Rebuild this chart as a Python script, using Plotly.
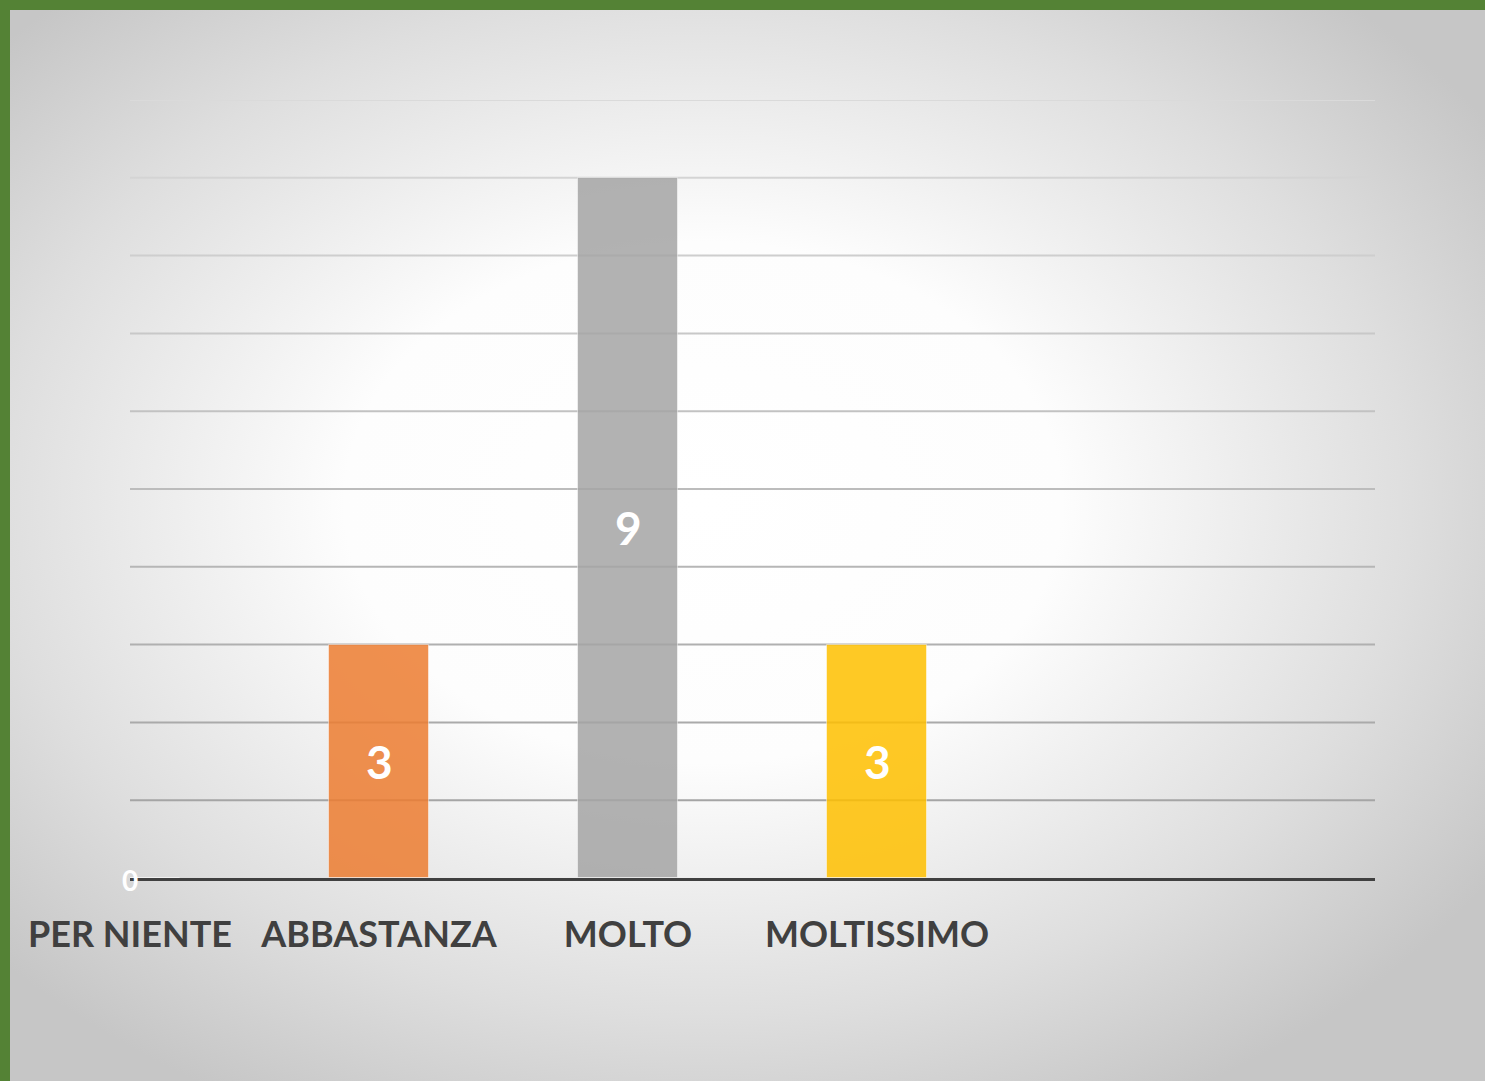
import base64
import plotly.graph_objects as go

categories = ['PER NIENTE', 'ABBASTANZA', 'MOLTO', 'MOLTISSIMO', '']
values = [0, 3, 9, 3, None]
bar_colors = ['#4472C4', '#ED7D31', '#A5A5A5', '#FFC000', '#5B9BD5']
y_ticks = [1, 2, 3, 4, 5, 6, 7, 8, 9, 10]

W, H = 1485, 1081
x_pos = list(range(len(categories)))

# radial grey background (PowerPoint style), fed as an svg image
svg = '''<svg xmlns="http://www.w3.org/2000/svg" width="1475" height="1071" preserveAspectRatio="none" viewBox="0 0 1475 1071">
<defs><radialGradient id="g" cx="0.47" cy="0.46" r="0.64" gradientUnits="objectBoundingBox">
<stop offset="0" stop-color="#ffffff"/>
<stop offset="0.38" stop-color="#fdfdfd"/>
<stop offset="0.75" stop-color="#dedede"/>
<stop offset="1" stop-color="#c6c6c6"/>
</radialGradient></defs>
<rect x="0" y="0" width="1475" height="1071" fill="url(#g)"/>
</svg>'''
bg_src = 'data:image/svg+xml;base64,' + base64.b64encode(svg.encode()).decode()

fig = go.Figure()
fig.add_trace(go.Bar(
    x=x_pos,
    y=values,
    width=0.4,
    marker=dict(color=bar_colors, opacity=0.85,
                line=dict(color='rgba(255,255,255,0.5)', width=1)),
    hoverinfo='skip',
))

# gridlines: lighter towards the top
shapes = []
for i, t in enumerate(y_ticks):
    g = int(165 + (218 - 165) * i / (len(y_ticks) - 1))
    shapes.append(dict(type='line', xref='x domain', yref='y', x0=0, x1=1, y0=t, y1=t,
                       line=dict(color='rgb(%d,%d,%d)' % (g, g, g), width=2),
                       layer='below'))

# data labels centred in each bar
annotations = []
for x, v in zip(x_pos, values):
    if v is None:
        continue
    annotations.append(dict(x=x, y=v / 2, xref='x', yref='y', text=str(v),
                            showarrow=False, yshift=0 if v else -2,
                            font=dict(family='Lato', size=46 if v else 28,
                                      color='white', weight='bold')))

fig.update_layout(
    template='none',
    width=W, height=H,
    autosize=False,
    margin=dict(l=0, r=0, t=0, b=0, pad=0),
    paper_bgcolor='#548235',
    plot_bgcolor='rgba(0,0,0,0)',
    showlegend=False,
    bargap=0,
    shapes=shapes,
    annotations=annotations,
    images=[dict(source=bg_src, xref='paper', yref='paper', x=10 / W, y=1 - 10 / H,
                 sizex=1 - 10 / W, sizey=1 - 10 / H, sizing='stretch',
                 xanchor='left', yanchor='top', layer='below')],
    xaxis=dict(
        domain=[130 / W, 1375 / W],
        range=[0, 5],
        automargin=False,
        tickvals=x_pos,
        ticktext=categories,
        tickfont=dict(family='Lato', size=36, color='#404040', weight='bold'),
        ticks='outside', ticklen=23, tickcolor='rgba(0,0,0,0)',
        showline=True, linecolor='#404040', linewidth=3,
        showgrid=False, zeroline=False,
    ),
    yaxis=dict(
        domain=[1 - 878 / H, 1 - 100 / H],
        range=[0, 10],
        automargin=False,
        showticklabels=False, ticks='',
        showgrid=False, zeroline=False, showline=False,
    ),
)

fig.write_html('out.html', config={'displayModeBar': False},
               post_script="document.body.style.margin='0';")
